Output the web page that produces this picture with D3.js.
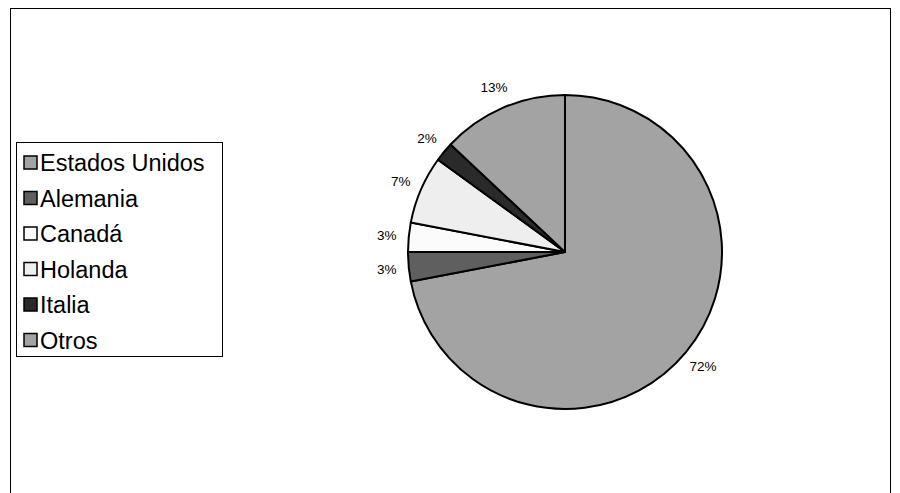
<!DOCTYPE html>
<html><head><meta charset="utf-8">
<script src="https://cdn.jsdelivr.net/npm/d3@7"></script>
<style>body{margin:0;background:#fff}</style>
</head><body>
<script>
var categories = ["Estados Unidos", "Alemania", "Canadá", "Holanda", "Italia", "Otros"];
var values = [72, 3, 3, 7, 2, 13];
var colors = ["#a3a3a3", "#5f5f5f", "#fbfbfb", "#eeeeee", "#2a2a2a", "#a3a3a3"];

var svg = d3.select("body").append("svg").attr("width", 900).attr("height", 493)
  .style("font-family", "'Liberation Sans', Arial, sans-serif");

// outer frame
svg.append("rect").attr("x", 10.5).attr("y", 8.5).attr("width", 880).attr("height", 500)
  .attr("fill", "none").attr("stroke", "#000");

var cx = 565, cy = 252, r = 157;
var pie = d3.pie().sort(null).value(function (d) { return d; });
var arcs = pie(values);
var arc = d3.arc().innerRadius(0).outerRadius(r);
var labelArc = d3.arc().innerRadius(r + 22).outerRadius(r + 22);

var g = svg.append("g").attr("transform", "translate(" + cx + "," + cy + ")");
g.selectAll("path").data(arcs).enter().append("path")
  .attr("d", arc)
  .attr("fill", function (d, i) { return colors[i]; })
  .attr("stroke", "#000").attr("stroke-width", 2).attr("stroke-linejoin", "round");

g.selectAll("text").data(arcs).enter().append("text")
  .attr("transform", function (d) { return "translate(" + labelArc.centroid(d) + ")"; })
  .attr("text-anchor", "middle").attr("dy", "0.35em")
  .attr("font-size", 13.5)
  .text(function (d) { return d.value + "%"; });

// legend
var lg = svg.append("g");
lg.append("rect").attr("x", 16.5).attr("y", 142.5).attr("width", 206).attr("height", 214)
  .attr("fill", "#fff").attr("stroke", "#000");
var items = lg.selectAll("g.item").data(categories).enter().append("g")
  .attr("transform", function (d, i) { return "translate(24," + (163 + i * 35.5) + ")"; });
items.append("rect").attr("x", 0).attr("y", -7).attr("width", 13).attr("height", 13)
  .attr("fill", function (d, i) { return colors[i]; })
  .attr("stroke", "#000").attr("stroke-width", 1.5);
items.append("text").attr("x", 16).attr("dy", "0.36em").attr("font-size", 23.5)
  .attr("textLength", null)
  .text(function (d) { return d; });
</script>
</body></html>
